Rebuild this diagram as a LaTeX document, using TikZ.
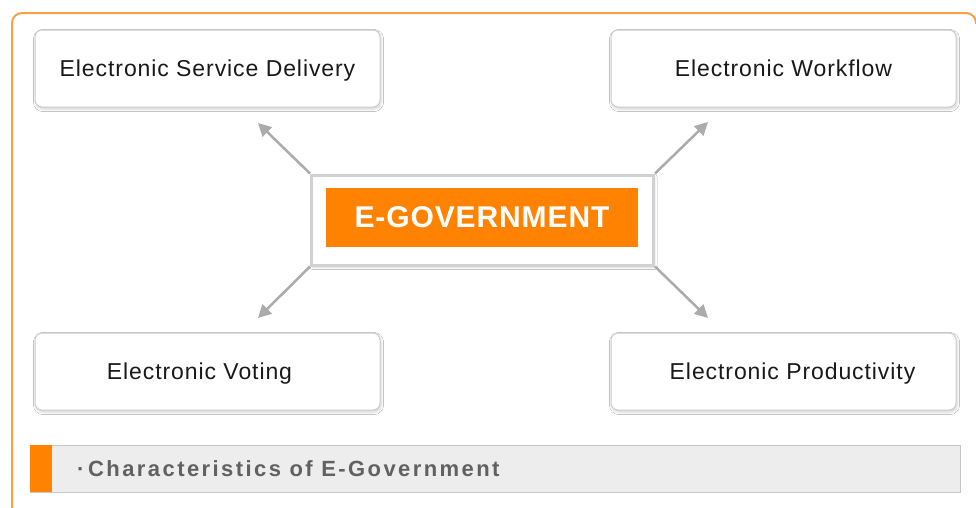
\documentclass[tikz,border=0pt]{standalone}
\usepackage{fontspec}
\setmainfont{Liberation Sans}
\newfontfamily\boxfont[LetterSpace=4]{Liberation Sans}
\newfontfamily\capfont[LetterSpace=11]{Liberation Sans}
\newfontfamily\titlefont[LetterSpace=3]{Liberation Sans}
\usetikzlibrary{arrows.meta,shadows.blur}
\definecolor{orangeA}{HTML}{FF8200}
\definecolor{frameor}{HTML}{F7A046}
\tikzset{
  feat/.style={draw=black!20, line width=1, fill=white, rounded corners=7,
    minimum width=345, minimum height=77, inner sep=0, text height=16.5pt, text depth=0pt,
    font=\boxfont\fontsize{23}{28}\selectfont, text=black!90,
    blur shadow={shadow xshift=1pt, shadow yshift=-2pt, shadow blur radius=2.5pt, shadow opacity=18}},
  arr/.style={draw=black!33, line width=2.5, -{Triangle[length=13pt,width=13pt]}},
}
\begin{document}
\begin{tikzpicture}[x=1pt,y=-1pt]
\useasboundingbox (0,0) rectangle (976,507);
\fill[white] (0,0) rectangle (976,507);
\draw[frameor, line width=2, rounded corners=10] (12,512) -- (12,13) -- (976,13) -- (976,24);
% feature boxes
\node[feat] (esd) at (207.5,68.5) {Electronic Service Delivery};
\node[feat] (ew) at (783.5,68.5) {Electronic Workflow};
\node[feat] (ev) at (207.5,371.5) {\hspace*{-16pt}Electronic Voting};
\node[feat] (ep) at (783.5,371.5) {Electronic Productivity\hspace*{-18pt}};
% centre box
\node[draw=black!18, line width=3, fill=white, minimum width=342, minimum height=90, inner sep=0,
  blur shadow={shadow xshift=1pt, shadow yshift=-2pt, shadow blur radius=2.5pt, shadow opacity=15}] (cb) at (482.5,220) {};
\node[fill=orangeA, minimum width=312, minimum height=59, inner sep=0, text=white,
  font=\titlefont\bfseries\fontsize{30}{34}\selectfont] (eg) at (482,217.5) {E-GOVERNMENT};
% arrows
\coordinate (a1) at (258,123);
\coordinate (a2) at (708,122);
\coordinate (a3) at (258,318);
\coordinate (a4) at (708,318);
\draw[arr] (cb.north west) -- (a1);
\draw[arr] (cb.north east) -- (a2);
\draw[arr] (cb.south west) -- (a3);
\draw[arr] (cb.south east) -- (a4);
% bottom caption bar
\node[draw=black!22, line width=1, fill=black!7, minimum width=930, minimum height=47, inner sep=0,
  anchor=north west] (bar) at (30,445) {};
\node[fill=orangeA, minimum width=22, minimum height=47, inner sep=0, anchor=north west] (strip) at (30,445) {};
\node[anchor=west, inner sep=0, text=black!62, font=\capfont\bfseries\fontsize{22}{24}\selectfont] (cap) at (77,469) {·\,Characteristics of E-Government};
\end{tikzpicture}
\end{document}
